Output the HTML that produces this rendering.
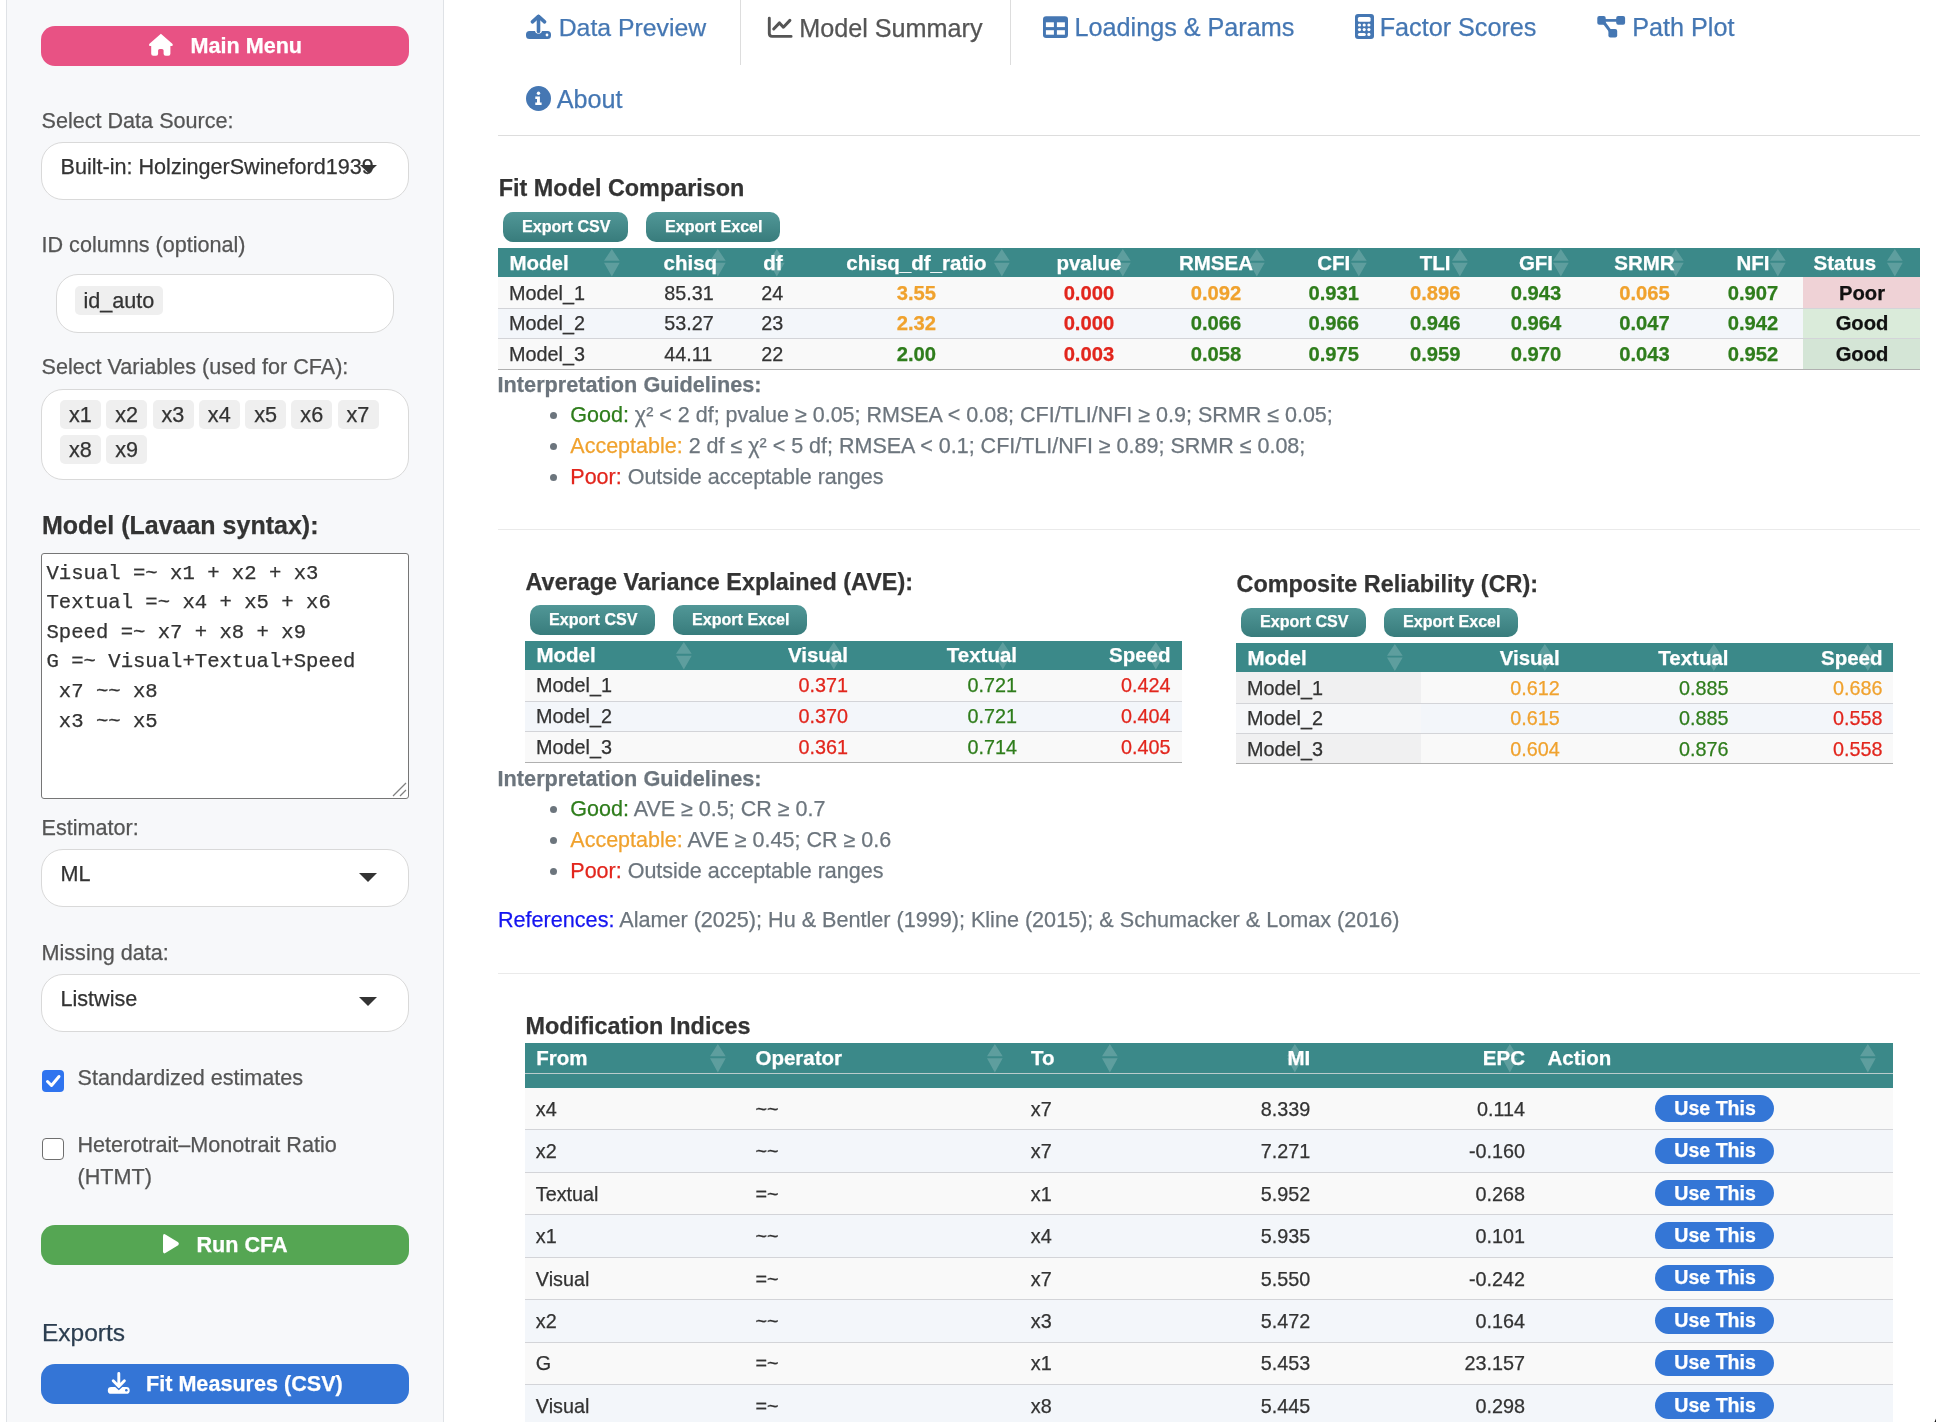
<!DOCTYPE html>
<html><head><meta charset="utf-8"><title>CFA - Model Summary</title>
<style>
html,body{margin:0;padding:0;background:#fff;}
body{width:1936px;height:1422px;overflow:hidden;position:relative;font-family:"Liberation Sans",sans-serif;}
#root{position:absolute;left:0;top:0;width:1936px;height:1422px;overflow:hidden;will-change:transform;}
.a{position:absolute;white-space:nowrap;-webkit-text-stroke:0.25px currentColor;}
svg.a{overflow:visible;}
</style></head><body><div id="root">
<div class="a" style="left:6px;top:-30px;width:436px;height:1480px;background:#f7f8fa;border:1px solid #dfe2e6;border-radius:6px;"></div>
<div class="a" style="left:41px;top:26px;width:368px;height:40px;background:#e85284;border-radius:14px;"></div>
<svg class="a" style="left:149px;top:34px;" width="24" height="22" viewBox="0 0 24 22"><path fill="#fff" d="M11.9 -0.2 L23.6 10.1 Q24.4 11.9 22.8 12 L21.4 12 L21.4 19.7 Q21.4 21.7 19.4 21.7 L16.6 21.7 Q14.6 21.7 14.6 19.7 L14.6 16.6 Q14.6 15 13 15 L10.7 15 Q9.1 15 9.1 16.6 L9.1 19.7 Q9.1 21.7 7.1 21.7 L4.2 21.7 Q2.2 21.7 2.2 19.7 L2.2 12 L1 12 Q-0.6 11.9 0.2 10.1 Z"/></svg>
<div class="a" style="top:30px;font-size:21.6px;line-height:31px;color:#fff;font-weight:700;left:190.50px;">Main Menu</div>
<div class="a" style="top:105px;font-size:21.6px;line-height:31px;color:#555;left:41.50px;">Select Data Source:</div>
<div class="a" style="left:41px;top:142px;width:366px;height:56px;background:#fff;border:1px solid #d9d9d9;border-radius:22px;"></div>
<div class="a" style="top:151px;font-size:21.6px;line-height:31px;color:#333;left:60.50px;">Built-in: HolzingerSwineford1939</div>
<svg class="a" style="left:359.5px;top:165px;" width="17" height="8" viewBox="0 0 17 8"><path fill="#333" d="M0 0 L17 0 L8.5 8 Z"/></svg>
<div class="a" style="top:229px;font-size:21.6px;line-height:31px;color:#555;left:41.50px;">ID columns (optional)</div>
<div class="a" style="left:56px;top:274px;width:336px;height:57px;background:#fff;border:1px solid #d9d9d9;border-radius:22px;"></div>
<div class="a" style="left:75px;top:286px;width:88px;height:29px;background:#efefef;border-radius:5px;"></div>
<div class="a" style="top:285px;font-size:21.6px;line-height:31px;color:#333;left:83.50px;">id_auto</div>
<div class="a" style="top:351px;font-size:21.6px;line-height:31px;color:#555;left:41.50px;">Select Variables (used for CFA):</div>
<div class="a" style="left:41px;top:389px;width:366px;height:89px;background:#fff;border:1px solid #d9d9d9;border-radius:22px;"></div>
<div class="a" style="left:60px;top:400px;width:41px;height:29px;background:#efefef;border-radius:5px;"></div>
<div class="a" style="top:399px;font-size:21.6px;line-height:31px;color:#333;left:59.85px;width:41px;text-align:center;">x1</div>
<div class="a" style="left:106px;top:400px;width:41px;height:29px;background:#efefef;border-radius:5px;"></div>
<div class="a" style="top:399px;font-size:21.6px;line-height:31px;color:#333;left:106.05px;width:41px;text-align:center;">x2</div>
<div class="a" style="left:153px;top:400px;width:41px;height:29px;background:#efefef;border-radius:5px;"></div>
<div class="a" style="top:399px;font-size:21.6px;line-height:31px;color:#333;left:152.45px;width:41px;text-align:center;">x3</div>
<div class="a" style="left:199px;top:400px;width:41px;height:29px;background:#efefef;border-radius:5px;"></div>
<div class="a" style="top:399px;font-size:21.6px;line-height:31px;color:#333;left:198.75px;width:41px;text-align:center;">x4</div>
<div class="a" style="left:245px;top:400px;width:41px;height:29px;background:#efefef;border-radius:5px;"></div>
<div class="a" style="top:399px;font-size:21.6px;line-height:31px;color:#333;left:245.05px;width:41px;text-align:center;">x5</div>
<div class="a" style="left:291px;top:400px;width:41px;height:29px;background:#efefef;border-radius:5px;"></div>
<div class="a" style="top:399px;font-size:21.6px;line-height:31px;color:#333;left:291.25px;width:41px;text-align:center;">x6</div>
<div class="a" style="left:338px;top:400px;width:41px;height:29px;background:#efefef;border-radius:5px;"></div>
<div class="a" style="top:399px;font-size:21.6px;line-height:31px;color:#333;left:337.45px;width:41px;text-align:center;">x7</div>
<div class="a" style="left:60px;top:435px;width:41px;height:29px;background:#efefef;border-radius:5px;"></div>
<div class="a" style="top:434px;font-size:21.6px;line-height:31px;color:#333;left:59.85px;width:41px;text-align:center;">x8</div>
<div class="a" style="left:106px;top:435px;width:41px;height:29px;background:#efefef;border-radius:5px;"></div>
<div class="a" style="top:434px;font-size:21.6px;line-height:31px;color:#333;left:106.05px;width:41px;text-align:center;">x9</div>
<div class="a" style="top:507px;font-size:25px;line-height:36px;color:#333;font-weight:700;left:42.00px;">Model (Lavaan syntax):</div>
<div class="a" style="left:41px;top:553px;width:366px;height:244px;background:#fff;border:1px solid #767676;border-radius:3px;"></div>
<div class="a" style="top:559px;font-size:20.6px;line-height:30px;color:#333;font-family:'Liberation Mono',monospace;left:46.50px;">Visual =~ x1 + x2 + x3</div>
<div class="a" style="top:588px;font-size:20.6px;line-height:30px;color:#333;font-family:'Liberation Mono',monospace;left:46.50px;">Textual =~ x4 + x5 + x6</div>
<div class="a" style="top:618px;font-size:20.6px;line-height:30px;color:#333;font-family:'Liberation Mono',monospace;left:46.50px;">Speed =~ x7 + x8 + x9</div>
<div class="a" style="top:647px;font-size:20.6px;line-height:30px;color:#333;font-family:'Liberation Mono',monospace;left:46.50px;">G =~ Visual+Textual+Speed</div>
<div class="a" style="top:677px;font-size:20.6px;line-height:30px;color:#333;font-family:'Liberation Mono',monospace;left:46.50px;"> x7 ~~ x8</div>
<div class="a" style="top:707px;font-size:20.6px;line-height:30px;color:#333;font-family:'Liberation Mono',monospace;left:46.50px;"> x3 ~~ x5</div>
<svg class="a" style="left:392px;top:782px;" width="15" height="15" viewBox="0 0 15 15"><path d="M14 1 L1 14 M14 8 L8 14" stroke="#808080" stroke-width="1.3" fill="none"/></svg>
<div class="a" style="top:812px;font-size:21.6px;line-height:31px;color:#555;left:41.50px;">Estimator:</div>
<div class="a" style="left:41px;top:849px;width:366px;height:56px;background:#fff;border:1px solid #d9d9d9;border-radius:22px;"></div>
<div class="a" style="top:858px;font-size:21.6px;line-height:31px;color:#333;left:60.50px;">ML</div>
<svg class="a" style="left:359px;top:873px;" width="18" height="9" viewBox="0 0 18 9"><path fill="#333" d="M0 0 L18 0 L9 9 Z"/></svg>
<div class="a" style="top:937px;font-size:21.6px;line-height:31px;color:#555;left:41.50px;">Missing data:</div>
<div class="a" style="left:41px;top:974px;width:366px;height:56px;background:#fff;border:1px solid #d9d9d9;border-radius:22px;"></div>
<div class="a" style="top:983px;font-size:21.6px;line-height:31px;color:#333;left:60.50px;">Listwise</div>
<svg class="a" style="left:359px;top:997px;" width="18" height="9" viewBox="0 0 18 9"><path fill="#333" d="M0 0 L18 0 L9 9 Z"/></svg>
<div class="a" style="left:42px;top:1070px;width:22px;height:22px;background:#2f74ef;border-radius:4px;"></div>
<svg class="a" style="left:42px;top:1070px;" width="22" height="22" viewBox="0 0 22 22"><path d="M5.5 11.5 L9.5 15.5 L17 6.5" stroke="#fff" stroke-width="3" fill="none" stroke-linecap="round" stroke-linejoin="round"/></svg>
<div class="a" style="top:1062px;font-size:21.6px;line-height:31px;color:#555;left:77.50px;">Standardized estimates</div>
<div class="a" style="left:42px;top:1138px;width:20px;height:20px;background:#fff;border:1.5px solid #6f6f6f;border-radius:4px;"></div>
<div class="a" style="top:1129px;font-size:21.6px;line-height:31px;color:#555;left:77.50px;">Heterotrait–Monotrait Ratio</div>
<div class="a" style="top:1161px;font-size:21.6px;line-height:31px;color:#555;left:77.50px;">(HTMT)</div>
<div class="a" style="left:41px;top:1225px;width:368px;height:40px;background:#55a653;border-radius:14px;"></div>
<svg class="a" style="left:162.8px;top:1233.8px;" width="17" height="20" viewBox="0 0 17 20"><path fill="#fff" d="M2.4 0.4 Q0 -0.8 0 2.2 L0 17.3 Q0 20.3 2.4 19.1 L15.2 11.3 Q16.6 9.75 15.2 8.2 Z"/></svg>
<div class="a" style="top:1229px;font-size:21.6px;line-height:31px;color:#fff;font-weight:700;left:196.50px;">Run CFA</div>
<div class="a" style="top:1315px;font-size:24.5px;line-height:36px;color:#2c3e50;left:42.00px;">Exports</div>
<div class="a" style="left:41px;top:1364px;width:368px;height:40px;background:#3475d6;border-radius:14px;"></div>
<svg class="a" style="left:107.5px;top:1372px;" width="22" height="22" viewBox="0 0 22 22"><path d="M10.8 1.4 L10.8 14 M5.2 8.8 L10.8 14.6 L16.4 8.8" stroke="#fff" stroke-width="2.9" fill="none" stroke-linecap="round" stroke-linejoin="round"/><path fill="#fff" d="M3.2 15 L7.2 15 L10.8 18.3 L14.4 15 L18.4 15 Q21.7 15 21.7 18.4 Q21.7 21.8 18.4 21.8 L3.2 21.8 Q-0.2 21.8 -0.2 18.4 Q-0.2 15 3.2 15 Z"/><circle cx="18.3" cy="18.3" r="1.25" fill="#3475d6"/></svg>
<div class="a" style="top:1368px;font-size:21.6px;line-height:31px;color:#fff;font-weight:700;left:146.00px;">Fit Measures (CSV)</div>
<svg class="a" style="left:526px;top:14px;" width="25" height="25" viewBox="0 0 25 25"><path d="M12.5 2.5 L12.5 17.5" stroke="#4577b3" stroke-width="3.6" stroke-linecap="round"/><path d="M6.4 7.8 L12.5 2.3 L18.6 7.8" stroke="#4577b3" stroke-width="3.6" fill="none" stroke-linecap="round" stroke-linejoin="round"/><path fill="#4577b3" d="M3.5 17 L9 17 A3.6 3.6 0 0 0 16 17 L21.5 17 Q25 17 25 20.5 L25 21.5 Q25 25 21.5 25 L3.5 25 Q0 25 0 21.5 L0 20.5 Q0 17 3.5 17 Z"/><circle cx="21" cy="21" r="1.4" fill="#fff"/></svg>
<div class="a" style="top:10px;font-size:24.8px;line-height:36px;color:#4577b3;left:558.70px;">Data Preview</div>
<div class="a" style="left:740px;top:-30px;width:269px;height:94px;border:1px solid #ddd;border-bottom:none;border-radius:6px 6px 0 0;background:#fff;"></div>
<svg class="a" style="left:767px;top:15.5px;" width="26" height="22" viewBox="0 0 26 22"><path d="M2.3 2.2 L2.3 17.6 Q2.3 20.4 5.1 20.4 L24.1 20.4" stroke="#555" stroke-width="2.9" fill="none" stroke-linecap="round" stroke-linejoin="round"/><path d="M6.7 13 L12.5 6.9 L16.4 11.2 L22.9 4.4" stroke="#555" stroke-width="3" fill="none" stroke-linecap="round" stroke-linejoin="round"/></svg>
<div class="a" style="top:10px;font-size:25.2px;line-height:37px;color:#555;left:799.20px;">Model Summary</div>
<svg class="a" style="left:1043px;top:15.5px;" width="25" height="22" viewBox="0 0 25 22"><rect x="0" y="0.2" width="25" height="21.7" rx="3.2" fill="#4577b3"/><rect x="2.9" y="6.3" width="8" height="4.8" fill="#fff"/><rect x="13.9" y="6.3" width="8" height="4.8" fill="#fff"/><rect x="2.9" y="14.2" width="8" height="4.5" fill="#fff"/><rect x="13.9" y="14.2" width="8" height="4.5" fill="#fff"/></svg>
<div class="a" style="top:9px;font-size:25.2px;line-height:37px;color:#4577b3;left:1074.50px;">Loadings &amp; Params</div>
<svg class="a" style="left:1355px;top:14px;" width="19" height="25" viewBox="0 0 19 25"><rect x="0" y="0.1" width="19" height="24.8" rx="3" fill="#4577b3"/><rect x="2.9" y="3" width="12.7" height="4.8" rx="1.5" fill="#fff"/><circle cx="4.5" cy="11" r="1.6" fill="#fff"/><circle cx="9.2" cy="11" r="1.6" fill="#fff"/><circle cx="13.9" cy="11" r="1.6" fill="#fff"/><circle cx="4.5" cy="15.6" r="1.6" fill="#fff"/><circle cx="9.2" cy="15.6" r="1.6" fill="#fff"/><circle cx="13.9" cy="15.6" r="1.6" fill="#fff"/><rect x="2.9" y="18.9" width="7.9" height="3" rx="1.5" fill="#fff"/><circle cx="13.9" cy="20.4" r="1.6" fill="#fff"/></svg>
<div class="a" style="top:9px;font-size:25.2px;line-height:37px;color:#4577b3;left:1379.70px;">Factor Scores</div>
<svg class="a" style="left:1597px;top:14.8px;" width="29" height="23" viewBox="0 0 29 23"><path d="M7 5.4 L21 5.4" stroke="#4577b3" stroke-width="2.7"/><path d="M6.5 7 L13.8 16.8" stroke="#4577b3" stroke-width="3"/><rect x="0.3" y="0.9" width="8.4" height="8.9" rx="2" fill="#4577b3"/><rect x="19.2" y="0.9" width="8.9" height="8.9" rx="2" fill="#4577b3"/><rect x="11.4" y="13.9" width="8.8" height="8.6" rx="2" fill="#4577b3"/></svg>
<div class="a" style="top:9px;font-size:25.2px;line-height:37px;color:#4577b3;left:1632.20px;">Path Plot</div>
<svg class="a" style="left:526px;top:86px;" width="25" height="25" viewBox="0 0 25 25"><circle cx="12.5" cy="12.5" r="12.5" fill="#4577b3"/><circle cx="12.5" cy="7.3" r="1.7" fill="#fff"/><path fill="#fff" d="M9.3 10.6 L13.9 10.6 L13.9 16.6 L15.6 16.6 L15.6 19 L9.3 19 L9.3 16.6 L11 16.6 L11 13 L9.3 13 Z"/></svg>
<div class="a" style="top:81px;font-size:25.2px;line-height:37px;color:#4577b3;left:556.70px;">About</div>
<div class="a" style="left:498px;top:135px;width:1422px;height:1px;background:#ddd;"></div>
<div class="a" style="top:171px;font-size:23.4px;line-height:34px;color:#333;font-weight:700;left:498.80px;">Fit Model Comparison</div>
<div class="a" style="left:503px;top:212px;width:125px;height:29.5px;background:linear-gradient(#519797,#387c7c);border-radius:10px;"></div>
<div class="a" style="top:215px;font-size:16.1px;line-height:23px;color:#fff;font-weight:700;left:522.00px;">Export CSV</div>
<div class="a" style="left:646px;top:212px;width:134px;height:29.5px;background:linear-gradient(#519797,#387c7c);border-radius:10px;"></div>
<div class="a" style="top:215px;font-size:16.1px;line-height:23px;color:#fff;font-weight:700;left:665.00px;">Export Excel</div>
<div class="a" style="left:498px;top:248px;width:1422px;height:29px;background:#3b8989;"></div>
<svg class="a" style="left:603.7px;top:248.7px;" width="15.7" height="27.5" viewBox="0 0 15.7 27.5"><path fill="rgba(255,255,255,0.18)" d="M7.85 0 L15.7 11.825 L0 11.825 Z M0 13.75 L15.7 13.75 L7.85 27.5 Z"/></svg>
<div class="a" style="top:248px;font-size:20.5px;line-height:30px;color:#fff;font-weight:700;left:509.50px;">Model</div>
<svg class="a" style="left:709.5px;top:248.7px;" width="15.7" height="27.5" viewBox="0 0 15.7 27.5"><path fill="rgba(255,255,255,0.18)" d="M7.85 0 L15.7 11.825 L0 11.825 Z M0 13.75 L15.7 13.75 L7.85 27.5 Z"/></svg>
<div class="a" style="top:248px;font-size:20.5px;line-height:30px;color:#fff;font-weight:700;left:663.60px;">chisq</div>
<svg class="a" style="left:769px;top:248.7px;" width="15.7" height="27.5" viewBox="0 0 15.7 27.5"><path fill="rgba(255,255,255,0.18)" d="M7.85 0 L15.7 11.825 L0 11.825 Z M0 13.75 L15.7 13.75 L7.85 27.5 Z"/></svg>
<div class="a" style="top:248px;font-size:20.5px;line-height:30px;color:#fff;font-weight:700;left:763.30px;">df</div>
<svg class="a" style="left:993.9px;top:248.7px;" width="15.7" height="27.5" viewBox="0 0 15.7 27.5"><path fill="rgba(255,255,255,0.18)" d="M7.85 0 L15.7 11.825 L0 11.825 Z M0 13.75 L15.7 13.75 L7.85 27.5 Z"/></svg>
<div class="a" style="top:248px;font-size:20.5px;line-height:30px;color:#fff;font-weight:700;left:816.40px;width:200px;text-align:center;">chisq_df_ratio</div>
<svg class="a" style="left:1115.3px;top:248.7px;" width="15.7" height="27.5" viewBox="0 0 15.7 27.5"><path fill="rgba(255,255,255,0.18)" d="M7.85 0 L15.7 11.825 L0 11.825 Z M0 13.75 L15.7 13.75 L7.85 27.5 Z"/></svg>
<div class="a" style="top:248px;font-size:20.5px;line-height:30px;color:#fff;font-weight:700;left:988.90px;width:200px;text-align:center;">pvalue</div>
<svg class="a" style="left:1249px;top:248.7px;" width="15.7" height="27.5" viewBox="0 0 15.7 27.5"><path fill="rgba(255,255,255,0.18)" d="M7.85 0 L15.7 11.825 L0 11.825 Z M0 13.75 L15.7 13.75 L7.85 27.5 Z"/></svg>
<div class="a" style="top:248px;font-size:20.5px;line-height:30px;color:#fff;font-weight:700;left:1116.00px;width:200px;text-align:center;">RMSEA</div>
<svg class="a" style="left:1351px;top:248.7px;" width="15.7" height="27.5" viewBox="0 0 15.7 27.5"><path fill="rgba(255,255,255,0.18)" d="M7.85 0 L15.7 11.825 L0 11.825 Z M0 13.75 L15.7 13.75 L7.85 27.5 Z"/></svg>
<div class="a" style="top:248px;font-size:20.5px;line-height:30px;color:#fff;font-weight:700;left:1233.80px;width:200px;text-align:center;">CFI</div>
<svg class="a" style="left:1452px;top:248.7px;" width="15.7" height="27.5" viewBox="0 0 15.7 27.5"><path fill="rgba(255,255,255,0.18)" d="M7.85 0 L15.7 11.825 L0 11.825 Z M0 13.75 L15.7 13.75 L7.85 27.5 Z"/></svg>
<div class="a" style="top:248px;font-size:20.5px;line-height:30px;color:#fff;font-weight:700;left:1335.20px;width:200px;text-align:center;">TLI</div>
<svg class="a" style="left:1553px;top:248.7px;" width="15.7" height="27.5" viewBox="0 0 15.7 27.5"><path fill="rgba(255,255,255,0.18)" d="M7.85 0 L15.7 11.825 L0 11.825 Z M0 13.75 L15.7 13.75 L7.85 27.5 Z"/></svg>
<div class="a" style="top:248px;font-size:20.5px;line-height:30px;color:#fff;font-weight:700;left:1436.00px;width:200px;text-align:center;">GFI</div>
<svg class="a" style="left:1668px;top:248.7px;" width="15.7" height="27.5" viewBox="0 0 15.7 27.5"><path fill="rgba(255,255,255,0.18)" d="M7.85 0 L15.7 11.825 L0 11.825 Z M0 13.75 L15.7 13.75 L7.85 27.5 Z"/></svg>
<div class="a" style="top:248px;font-size:20.5px;line-height:30px;color:#fff;font-weight:700;left:1544.50px;width:200px;text-align:center;">SRMR</div>
<svg class="a" style="left:1770px;top:248.7px;" width="15.7" height="27.5" viewBox="0 0 15.7 27.5"><path fill="rgba(255,255,255,0.18)" d="M7.85 0 L15.7 11.825 L0 11.825 Z M0 13.75 L15.7 13.75 L7.85 27.5 Z"/></svg>
<div class="a" style="top:248px;font-size:20.5px;line-height:30px;color:#fff;font-weight:700;left:1653.00px;width:200px;text-align:center;">NFI</div>
<svg class="a" style="left:1887px;top:248.7px;" width="15.7" height="27.5" viewBox="0 0 15.7 27.5"><path fill="rgba(255,255,255,0.18)" d="M7.85 0 L15.7 11.825 L0 11.825 Z M0 13.75 L15.7 13.75 L7.85 27.5 Z"/></svg>
<div class="a" style="top:248px;font-size:20.5px;line-height:30px;color:#fff;font-weight:700;left:1813.50px;">Status</div>
<div class="a" style="left:498px;top:277px;width:1422px;height:31px;background:#f9f9f9;"></div>
<div class="a" style="left:1803px;top:277px;width:117px;height:31px;background:#efd2d6;"></div>
<div class="a" style="left:498px;top:308px;width:1422px;height:30px;background:#f3f6fa;"></div>
<div class="a" style="left:1803px;top:308px;width:117px;height:30px;background:#daebda;"></div>
<div class="a" style="left:498px;top:338px;width:1422px;height:31px;background:#f9f9f9;"></div>
<div class="a" style="left:1803px;top:338px;width:117px;height:31px;background:#d4e5d6;"></div>
<div class="a" style="left:498px;top:308px;width:1422px;height:1px;background:#d3d4d8;"></div>
<div class="a" style="left:498px;top:338px;width:1422px;height:1px;background:#d3d4d8;"></div>
<div class="a" style="left:498px;top:369px;width:1422px;height:1px;background:#b0b0b0;"></div>
<div class="a" style="top:279px;font-size:19.8px;line-height:29px;color:#333;left:509.00px;">Model_1</div>
<div class="a" style="top:279px;font-size:19.8px;line-height:29px;color:#333;left:664.30px;">85.31</div>
<div class="a" style="top:279px;font-size:19.8px;line-height:29px;color:#333;left:761.30px;">24</div>
<div class="a" style="top:279px;font-size:20.2px;line-height:29px;color:#f0a22e;font-weight:700;left:866.40px;width:100px;text-align:center;">3.55</div>
<div class="a" style="top:279px;font-size:20.2px;line-height:29px;color:#e2261d;font-weight:700;left:1038.90px;width:100px;text-align:center;">0.000</div>
<div class="a" style="top:279px;font-size:20.2px;line-height:29px;color:#f0a22e;font-weight:700;left:1166.00px;width:100px;text-align:center;">0.092</div>
<div class="a" style="top:279px;font-size:20.2px;line-height:29px;color:#2f7d1c;font-weight:700;left:1283.80px;width:100px;text-align:center;">0.931</div>
<div class="a" style="top:279px;font-size:20.2px;line-height:29px;color:#f0a22e;font-weight:700;left:1385.20px;width:100px;text-align:center;">0.896</div>
<div class="a" style="top:279px;font-size:20.2px;line-height:29px;color:#2f7d1c;font-weight:700;left:1486.00px;width:100px;text-align:center;">0.943</div>
<div class="a" style="top:279px;font-size:20.2px;line-height:29px;color:#f0a22e;font-weight:700;left:1594.50px;width:100px;text-align:center;">0.065</div>
<div class="a" style="top:279px;font-size:20.2px;line-height:29px;color:#2f7d1c;font-weight:700;left:1703.00px;width:100px;text-align:center;">0.907</div>
<div class="a" style="top:279px;font-size:20.2px;line-height:29px;color:#111;font-weight:700;left:1812.00px;width:100px;text-align:center;">Poor</div>
<div class="a" style="top:309px;font-size:19.8px;line-height:29px;color:#333;left:509.00px;">Model_2</div>
<div class="a" style="top:309px;font-size:19.8px;line-height:29px;color:#333;left:664.30px;">53.27</div>
<div class="a" style="top:309px;font-size:19.8px;line-height:29px;color:#333;left:761.30px;">23</div>
<div class="a" style="top:309px;font-size:20.2px;line-height:29px;color:#f0a22e;font-weight:700;left:866.40px;width:100px;text-align:center;">2.32</div>
<div class="a" style="top:309px;font-size:20.2px;line-height:29px;color:#e2261d;font-weight:700;left:1038.90px;width:100px;text-align:center;">0.000</div>
<div class="a" style="top:309px;font-size:20.2px;line-height:29px;color:#2f7d1c;font-weight:700;left:1166.00px;width:100px;text-align:center;">0.066</div>
<div class="a" style="top:309px;font-size:20.2px;line-height:29px;color:#2f7d1c;font-weight:700;left:1283.80px;width:100px;text-align:center;">0.966</div>
<div class="a" style="top:309px;font-size:20.2px;line-height:29px;color:#2f7d1c;font-weight:700;left:1385.20px;width:100px;text-align:center;">0.946</div>
<div class="a" style="top:309px;font-size:20.2px;line-height:29px;color:#2f7d1c;font-weight:700;left:1486.00px;width:100px;text-align:center;">0.964</div>
<div class="a" style="top:309px;font-size:20.2px;line-height:29px;color:#2f7d1c;font-weight:700;left:1594.50px;width:100px;text-align:center;">0.047</div>
<div class="a" style="top:309px;font-size:20.2px;line-height:29px;color:#2f7d1c;font-weight:700;left:1703.00px;width:100px;text-align:center;">0.942</div>
<div class="a" style="top:309px;font-size:20.2px;line-height:29px;color:#111;font-weight:700;left:1812.00px;width:100px;text-align:center;">Good</div>
<div class="a" style="top:340px;font-size:19.8px;line-height:29px;color:#333;left:509.00px;">Model_3</div>
<div class="a" style="top:340px;font-size:19.8px;line-height:29px;color:#333;left:664.30px;">44.11</div>
<div class="a" style="top:340px;font-size:19.8px;line-height:29px;color:#333;left:761.30px;">22</div>
<div class="a" style="top:340px;font-size:20.2px;line-height:29px;color:#2f7d1c;font-weight:700;left:866.40px;width:100px;text-align:center;">2.00</div>
<div class="a" style="top:340px;font-size:20.2px;line-height:29px;color:#e2261d;font-weight:700;left:1038.90px;width:100px;text-align:center;">0.003</div>
<div class="a" style="top:340px;font-size:20.2px;line-height:29px;color:#2f7d1c;font-weight:700;left:1166.00px;width:100px;text-align:center;">0.058</div>
<div class="a" style="top:340px;font-size:20.2px;line-height:29px;color:#2f7d1c;font-weight:700;left:1283.80px;width:100px;text-align:center;">0.975</div>
<div class="a" style="top:340px;font-size:20.2px;line-height:29px;color:#2f7d1c;font-weight:700;left:1385.20px;width:100px;text-align:center;">0.959</div>
<div class="a" style="top:340px;font-size:20.2px;line-height:29px;color:#2f7d1c;font-weight:700;left:1486.00px;width:100px;text-align:center;">0.970</div>
<div class="a" style="top:340px;font-size:20.2px;line-height:29px;color:#2f7d1c;font-weight:700;left:1594.50px;width:100px;text-align:center;">0.043</div>
<div class="a" style="top:340px;font-size:20.2px;line-height:29px;color:#2f7d1c;font-weight:700;left:1703.00px;width:100px;text-align:center;">0.952</div>
<div class="a" style="top:340px;font-size:20.2px;line-height:29px;color:#111;font-weight:700;left:1812.00px;width:100px;text-align:center;">Good</div>
<div class="a" style="top:369px;font-size:21.7px;line-height:31px;color:#6c757d;font-weight:700;left:497.60px;">Interpretation Guidelines:</div>
<div class="a" style="left:550px;top:411.90px;width:7px;height:7px;border-radius:50%;background:#6c757d;"></div>
<div class="a" style="top:400px;font-size:21.5px;line-height:31px;color:#6c757d;left:570.30px;"><span style="color:#2f7d1c">Good:</span> χ² &lt; 2 df; pvalue ≥ 0.05; RMSEA &lt; 0.08; CFI/TLI/NFI ≥ 0.9; SRMR ≤ 0.05;</div>
<div class="a" style="left:550px;top:442.95px;width:7px;height:7px;border-radius:50%;background:#6c757d;"></div>
<div class="a" style="top:431px;font-size:21.5px;line-height:31px;color:#6c757d;left:570.30px;"><span style="color:#f0a22e">Acceptable:</span> 2 df ≤ χ² &lt; 5 df; RMSEA &lt; 0.1; CFI/TLI/NFI ≥ 0.89; SRMR ≤ 0.08;</div>
<div class="a" style="left:550px;top:474.00px;width:7px;height:7px;border-radius:50%;background:#6c757d;"></div>
<div class="a" style="top:462px;font-size:21.5px;line-height:31px;color:#6c757d;left:570.30px;"><span style="color:#e2261d">Poor:</span> Outside acceptable ranges</div>
<div class="a" style="left:498px;top:529px;width:1422px;height:1px;background:#eaeaea;"></div>
<div class="a" style="top:565px;font-size:23.4px;line-height:34px;color:#333;font-weight:700;left:525.60px;">Average Variance Explained (AVE):</div>
<div class="a" style="left:530px;top:605.3px;width:125px;height:29.5px;background:linear-gradient(#519797,#387c7c);border-radius:10px;"></div>
<div class="a" style="top:608px;font-size:16.1px;line-height:23px;color:#fff;font-weight:700;left:549.00px;">Export CSV</div>
<div class="a" style="left:673px;top:605.3px;width:134px;height:29.5px;background:linear-gradient(#519797,#387c7c);border-radius:10px;"></div>
<div class="a" style="top:608px;font-size:16.1px;line-height:23px;color:#fff;font-weight:700;left:692.00px;">Export Excel</div>
<div class="a" style="left:525px;top:641px;width:657px;height:29px;background:#3b8989;"></div>
<svg class="a" style="left:675.8px;top:641.7px;" width="15.7" height="27.5" viewBox="0 0 15.7 27.5"><path fill="rgba(255,255,255,0.18)" d="M7.85 0 L15.7 11.825 L0 11.825 Z M0 13.75 L15.7 13.75 L7.85 27.5 Z"/></svg>
<div class="a" style="top:640px;font-size:20.5px;line-height:30px;color:#fff;font-weight:700;left:536.50px;">Model</div>
<svg class="a" style="left:826px;top:641.7px;" width="15.7" height="27.5" viewBox="0 0 15.7 27.5"><path fill="rgba(255,255,255,0.18)" d="M7.85 0 L15.7 11.825 L0 11.825 Z M0 13.75 L15.7 13.75 L7.85 27.5 Z"/></svg>
<div class="a" style="top:640px;font-size:20.5px;line-height:30px;color:#fff;font-weight:700;left:648.00px;width:200px;text-align:right;">Visual</div>
<svg class="a" style="left:994.5px;top:641.7px;" width="15.7" height="27.5" viewBox="0 0 15.7 27.5"><path fill="rgba(255,255,255,0.18)" d="M7.85 0 L15.7 11.825 L0 11.825 Z M0 13.75 L15.7 13.75 L7.85 27.5 Z"/></svg>
<div class="a" style="top:640px;font-size:20.5px;line-height:30px;color:#fff;font-weight:700;left:817.00px;width:200px;text-align:right;">Textual</div>
<svg class="a" style="left:1148px;top:641.7px;" width="15.7" height="27.5" viewBox="0 0 15.7 27.5"><path fill="rgba(255,255,255,0.18)" d="M7.85 0 L15.7 11.825 L0 11.825 Z M0 13.75 L15.7 13.75 L7.85 27.5 Z"/></svg>
<div class="a" style="top:640px;font-size:20.5px;line-height:30px;color:#fff;font-weight:700;left:970.50px;width:200px;text-align:right;">Speed</div>
<div class="a" style="left:525px;top:670px;width:657px;height:31px;background:#f9f9f9;"></div>
<div class="a" style="left:525px;top:701px;width:657px;height:30px;background:#f3f6fa;"></div>
<div class="a" style="left:525px;top:731px;width:657px;height:31px;background:#f9f9f9;"></div>
<div class="a" style="left:525px;top:701px;width:657px;height:1px;background:#d3d4d8;"></div>
<div class="a" style="left:525px;top:731px;width:657px;height:1px;background:#d3d4d8;"></div>
<div class="a" style="left:525px;top:762px;width:657px;height:1px;background:#b0b0b0;"></div>
<div class="a" style="top:671px;font-size:19.8px;line-height:29px;color:#333;left:536.00px;">Model_1</div>
<div class="a" style="top:671px;font-size:19.8px;line-height:29px;color:#e2261d;left:748.00px;width:100px;text-align:right;">0.371</div>
<div class="a" style="top:671px;font-size:19.8px;line-height:29px;color:#2f7d1c;left:917.00px;width:100px;text-align:right;">0.721</div>
<div class="a" style="top:671px;font-size:19.8px;line-height:29px;color:#e2261d;left:1070.50px;width:100px;text-align:right;">0.424</div>
<div class="a" style="top:702px;font-size:19.8px;line-height:29px;color:#333;left:536.00px;">Model_2</div>
<div class="a" style="top:702px;font-size:19.8px;line-height:29px;color:#e2261d;left:748.00px;width:100px;text-align:right;">0.370</div>
<div class="a" style="top:702px;font-size:19.8px;line-height:29px;color:#2f7d1c;left:917.00px;width:100px;text-align:right;">0.721</div>
<div class="a" style="top:702px;font-size:19.8px;line-height:29px;color:#e2261d;left:1070.50px;width:100px;text-align:right;">0.404</div>
<div class="a" style="top:733px;font-size:19.8px;line-height:29px;color:#333;left:536.00px;">Model_3</div>
<div class="a" style="top:733px;font-size:19.8px;line-height:29px;color:#e2261d;left:748.00px;width:100px;text-align:right;">0.361</div>
<div class="a" style="top:733px;font-size:19.8px;line-height:29px;color:#2f7d1c;left:917.00px;width:100px;text-align:right;">0.714</div>
<div class="a" style="top:733px;font-size:19.8px;line-height:29px;color:#e2261d;left:1070.50px;width:100px;text-align:right;">0.405</div>
<div class="a" style="top:567px;font-size:23.4px;line-height:34px;color:#333;font-weight:700;left:1236.50px;">Composite Reliability (CR):</div>
<div class="a" style="left:1241px;top:607.7px;width:125px;height:29.5px;background:linear-gradient(#519797,#387c7c);border-radius:10px;"></div>
<div class="a" style="top:610px;font-size:16.1px;line-height:23px;color:#fff;font-weight:700;left:1260.00px;">Export CSV</div>
<div class="a" style="left:1384px;top:607.7px;width:134px;height:29.5px;background:linear-gradient(#519797,#387c7c);border-radius:10px;"></div>
<div class="a" style="top:610px;font-size:16.1px;line-height:23px;color:#fff;font-weight:700;left:1403.00px;">Export Excel</div>
<div class="a" style="left:1236px;top:643.4px;width:657px;height:28.6px;background:#3b8989;"></div>
<svg class="a" style="left:1387px;top:644.1px;" width="15.7" height="27.1" viewBox="0 0 15.7 27.1"><path fill="rgba(255,255,255,0.18)" d="M7.85 0 L15.7 11.653 L0 11.653 Z M0 13.55 L15.7 13.55 L7.85 27.1 Z"/></svg>
<div class="a" style="top:643px;font-size:20.5px;line-height:30px;color:#fff;font-weight:700;left:1247.50px;">Model</div>
<svg class="a" style="left:1537px;top:644.1px;" width="15.7" height="27.1" viewBox="0 0 15.7 27.1"><path fill="rgba(255,255,255,0.18)" d="M7.85 0 L15.7 11.653 L0 11.653 Z M0 13.55 L15.7 13.55 L7.85 27.1 Z"/></svg>
<div class="a" style="top:643px;font-size:20.5px;line-height:30px;color:#fff;font-weight:700;left:1359.70px;width:200px;text-align:right;">Visual</div>
<svg class="a" style="left:1706px;top:644.1px;" width="15.7" height="27.1" viewBox="0 0 15.7 27.1"><path fill="rgba(255,255,255,0.18)" d="M7.85 0 L15.7 11.653 L0 11.653 Z M0 13.55 L15.7 13.55 L7.85 27.1 Z"/></svg>
<div class="a" style="top:643px;font-size:20.5px;line-height:30px;color:#fff;font-weight:700;left:1528.50px;width:200px;text-align:right;">Textual</div>
<svg class="a" style="left:1860px;top:644.1px;" width="15.7" height="27.1" viewBox="0 0 15.7 27.1"><path fill="rgba(255,255,255,0.18)" d="M7.85 0 L15.7 11.653 L0 11.653 Z M0 13.55 L15.7 13.55 L7.85 27.1 Z"/></svg>
<div class="a" style="top:643px;font-size:20.5px;line-height:30px;color:#fff;font-weight:700;left:1682.50px;width:200px;text-align:right;">Speed</div>
<div class="a" style="left:1236px;top:672px;width:657px;height:31px;background:#f9f9f9;"></div>
<div class="a" style="left:1236px;top:672px;width:184.5px;height:31px;background:#f0f0f1;"></div>
<div class="a" style="left:1236px;top:703px;width:657px;height:30px;background:#f3f6fa;"></div>
<div class="a" style="left:1236px;top:703px;width:184.5px;height:30px;background:#f6f7f9;"></div>
<div class="a" style="left:1236px;top:733px;width:657px;height:30px;background:#f9f9f9;"></div>
<div class="a" style="left:1236px;top:733px;width:184.5px;height:30px;background:#f0f0f1;"></div>
<div class="a" style="left:1236px;top:703px;width:657px;height:1px;background:#d3d4d8;"></div>
<div class="a" style="left:1236px;top:733px;width:657px;height:1px;background:#d3d4d8;"></div>
<div class="a" style="left:1236px;top:763px;width:657px;height:1px;background:#b0b0b0;"></div>
<div class="a" style="top:674px;font-size:19.8px;line-height:29px;color:#333;left:1247.00px;">Model_1</div>
<div class="a" style="top:674px;font-size:19.8px;line-height:29px;color:#f0a22e;left:1459.70px;width:100px;text-align:right;">0.612</div>
<div class="a" style="top:674px;font-size:19.8px;line-height:29px;color:#2f7d1c;left:1628.50px;width:100px;text-align:right;">0.885</div>
<div class="a" style="top:674px;font-size:19.8px;line-height:29px;color:#f0a22e;left:1782.50px;width:100px;text-align:right;">0.686</div>
<div class="a" style="top:704px;font-size:19.8px;line-height:29px;color:#333;left:1247.00px;">Model_2</div>
<div class="a" style="top:704px;font-size:19.8px;line-height:29px;color:#f0a22e;left:1459.70px;width:100px;text-align:right;">0.615</div>
<div class="a" style="top:704px;font-size:19.8px;line-height:29px;color:#2f7d1c;left:1628.50px;width:100px;text-align:right;">0.885</div>
<div class="a" style="top:704px;font-size:19.8px;line-height:29px;color:#e2261d;left:1782.50px;width:100px;text-align:right;">0.558</div>
<div class="a" style="top:735px;font-size:19.8px;line-height:29px;color:#333;left:1247.00px;">Model_3</div>
<div class="a" style="top:735px;font-size:19.8px;line-height:29px;color:#f0a22e;left:1459.70px;width:100px;text-align:right;">0.604</div>
<div class="a" style="top:735px;font-size:19.8px;line-height:29px;color:#2f7d1c;left:1628.50px;width:100px;text-align:right;">0.876</div>
<div class="a" style="top:735px;font-size:19.8px;line-height:29px;color:#e2261d;left:1782.50px;width:100px;text-align:right;">0.558</div>
<div class="a" style="top:763px;font-size:21.7px;line-height:31px;color:#6c757d;font-weight:700;left:497.60px;">Interpretation Guidelines:</div>
<div class="a" style="left:550px;top:806.30px;width:7px;height:7px;border-radius:50%;background:#6c757d;"></div>
<div class="a" style="top:794px;font-size:21.5px;line-height:31px;color:#6c757d;left:570.30px;"><span style="color:#2f7d1c">Good:</span> AVE ≥ 0.5; CR ≥ 0.7</div>
<div class="a" style="left:550px;top:837.35px;width:7px;height:7px;border-radius:50%;background:#6c757d;"></div>
<div class="a" style="top:825px;font-size:21.5px;line-height:31px;color:#6c757d;left:570.30px;"><span style="color:#f0a22e">Acceptable:</span> AVE ≥ 0.45; CR ≥ 0.6</div>
<div class="a" style="left:550px;top:868.40px;width:7px;height:7px;border-radius:50%;background:#6c757d;"></div>
<div class="a" style="top:856px;font-size:21.5px;line-height:31px;color:#6c757d;left:570.30px;"><span style="color:#e2261d">Poor:</span> Outside acceptable ranges</div>
<div class="a" style="top:904px;font-size:21.6px;line-height:31px;color:#6c757d;left:498.00px;"><span style="color:#1515f0">References:</span> Alamer (2025); Hu &amp; Bentler (1999); Kline (2015); &amp; Schumacker &amp; Lomax (2016)</div>
<div class="a" style="left:498px;top:973px;width:1422px;height:1px;background:#eaeaea;"></div>
<div class="a" style="top:1009px;font-size:23.4px;line-height:34px;color:#333;font-weight:700;left:525.60px;">Modification Indices</div>
<div class="a" style="left:525px;top:1043px;width:1368px;height:30px;background:#3b8989;"></div>
<svg class="a" style="left:710.4px;top:1043.7px;" width="15.7" height="28.5" viewBox="0 0 15.7 28.5"><path fill="rgba(255,255,255,0.18)" d="M7.85 0 L15.7 12.254999999999999 L0 12.254999999999999 Z M0 14.25 L15.7 14.25 L7.85 28.5 Z"/></svg>
<div class="a" style="top:1043px;font-size:20.5px;line-height:30px;color:#fff;font-weight:700;left:536.20px;">From</div>
<svg class="a" style="left:986.5px;top:1043.7px;" width="15.7" height="28.5" viewBox="0 0 15.7 28.5"><path fill="rgba(255,255,255,0.18)" d="M7.85 0 L15.7 12.254999999999999 L0 12.254999999999999 Z M0 14.25 L15.7 14.25 L7.85 28.5 Z"/></svg>
<div class="a" style="top:1043px;font-size:20.5px;line-height:30px;color:#fff;font-weight:700;left:755.50px;">Operator</div>
<svg class="a" style="left:1101.7px;top:1043.7px;" width="15.7" height="28.5" viewBox="0 0 15.7 28.5"><path fill="rgba(255,255,255,0.18)" d="M7.85 0 L15.7 12.254999999999999 L0 12.254999999999999 Z M0 14.25 L15.7 14.25 L7.85 28.5 Z"/></svg>
<div class="a" style="top:1043px;font-size:20.5px;line-height:30px;color:#fff;font-weight:700;left:1031.00px;">To</div>
<svg class="a" style="left:1287px;top:1043.7px;" width="15.7" height="28.5" viewBox="0 0 15.7 28.5"><path fill="rgba(255,255,255,0.18)" d="M7.85 0 L15.7 12.254999999999999 L0 12.254999999999999 Z M0 14.25 L15.7 14.25 L7.85 28.5 Z"/></svg>
<div class="a" style="top:1043px;font-size:20.5px;line-height:30px;color:#fff;font-weight:700;left:1110.30px;width:200px;text-align:right;">MI</div>
<svg class="a" style="left:1502px;top:1043.7px;" width="15.7" height="28.5" viewBox="0 0 15.7 28.5"><path fill="rgba(255,255,255,0.18)" d="M7.85 0 L15.7 12.254999999999999 L0 12.254999999999999 Z M0 14.25 L15.7 14.25 L7.85 28.5 Z"/></svg>
<div class="a" style="top:1043px;font-size:20.5px;line-height:30px;color:#fff;font-weight:700;left:1325.00px;width:200px;text-align:right;">EPC</div>
<svg class="a" style="left:1859.7px;top:1043.7px;" width="15.7" height="28.5" viewBox="0 0 15.7 28.5"><path fill="rgba(255,255,255,0.18)" d="M7.85 0 L15.7 12.254999999999999 L0 12.254999999999999 Z M0 14.25 L15.7 14.25 L7.85 28.5 Z"/></svg>
<div class="a" style="top:1043px;font-size:20.5px;line-height:30px;color:#fff;font-weight:700;left:1547.50px;">Action</div>
<div class="a" style="left:525px;top:1073px;width:1368px;height:15px;background:#3b8989;border-top:1px solid #b9cccc;"></div>
<div class="a" style="left:525px;top:1088px;width:1368px;height:42px;background:#f9f9f9;"></div>
<div class="a" style="left:525px;top:1130px;width:1368px;height:43px;background:#f3f6fa;"></div>
<div class="a" style="left:525px;top:1173px;width:1368px;height:42px;background:#f9f9f9;"></div>
<div class="a" style="left:525px;top:1215px;width:1368px;height:43px;background:#f3f6fa;"></div>
<div class="a" style="left:525px;top:1258px;width:1368px;height:42px;background:#f9f9f9;"></div>
<div class="a" style="left:525px;top:1300px;width:1368px;height:43px;background:#f3f6fa;"></div>
<div class="a" style="left:525px;top:1343px;width:1368px;height:42px;background:#f9f9f9;"></div>
<div class="a" style="left:525px;top:1385px;width:1368px;height:43px;background:#f3f6fa;"></div>
<div class="a" style="left:525px;top:1129px;width:1368px;height:1px;background:#d3d4d8;"></div>
<div class="a" style="left:525px;top:1172px;width:1368px;height:1px;background:#d3d4d8;"></div>
<div class="a" style="left:525px;top:1214px;width:1368px;height:1px;background:#d3d4d8;"></div>
<div class="a" style="left:525px;top:1257px;width:1368px;height:1px;background:#d3d4d8;"></div>
<div class="a" style="left:525px;top:1299px;width:1368px;height:1px;background:#d3d4d8;"></div>
<div class="a" style="left:525px;top:1342px;width:1368px;height:1px;background:#d3d4d8;"></div>
<div class="a" style="left:525px;top:1384px;width:1368px;height:1px;background:#d3d4d8;"></div>
<div class="a" style="left:525px;top:1427px;width:1368px;height:1px;background:#d3d4d8;"></div>
<div class="a" style="top:1095px;font-size:19.8px;line-height:29px;color:#333;left:535.80px;">x4</div>
<div class="a" style="top:1095px;font-size:19.8px;line-height:29px;color:#333;left:755.50px;">~~</div>
<div class="a" style="top:1095px;font-size:19.8px;line-height:29px;color:#333;left:1030.80px;">x7</div>
<div class="a" style="top:1095px;font-size:19.8px;line-height:29px;color:#333;left:1210.30px;width:100px;text-align:right;">8.339</div>
<div class="a" style="top:1095px;font-size:19.8px;line-height:29px;color:#333;left:1425.00px;width:100px;text-align:right;">0.114</div>
<div class="a" style="left:1655px;top:1095.0px;width:118.5px;height:26.6px;background:#3476d6;border-radius:14px;"></div>
<div class="a" style="top:1094px;font-size:19.6px;line-height:28px;color:#fff;font-weight:700;left:1656.10px;width:118px;text-align:center;">Use This</div>
<div class="a" style="top:1137px;font-size:19.8px;line-height:29px;color:#333;left:535.80px;">x2</div>
<div class="a" style="top:1137px;font-size:19.8px;line-height:29px;color:#333;left:755.50px;">~~</div>
<div class="a" style="top:1137px;font-size:19.8px;line-height:29px;color:#333;left:1030.80px;">x7</div>
<div class="a" style="top:1137px;font-size:19.8px;line-height:29px;color:#333;left:1210.30px;width:100px;text-align:right;">7.271</div>
<div class="a" style="top:1137px;font-size:19.8px;line-height:29px;color:#333;left:1425.00px;width:100px;text-align:right;">-0.160</div>
<div class="a" style="left:1655px;top:1137.5px;width:118.5px;height:26.6px;background:#3476d6;border-radius:14px;"></div>
<div class="a" style="top:1136px;font-size:19.6px;line-height:28px;color:#fff;font-weight:700;left:1656.10px;width:118px;text-align:center;">Use This</div>
<div class="a" style="top:1180px;font-size:19.8px;line-height:29px;color:#333;left:535.80px;">Textual</div>
<div class="a" style="top:1180px;font-size:19.8px;line-height:29px;color:#333;left:755.50px;">=~</div>
<div class="a" style="top:1180px;font-size:19.8px;line-height:29px;color:#333;left:1030.80px;">x1</div>
<div class="a" style="top:1180px;font-size:19.8px;line-height:29px;color:#333;left:1210.30px;width:100px;text-align:right;">5.952</div>
<div class="a" style="top:1180px;font-size:19.8px;line-height:29px;color:#333;left:1425.00px;width:100px;text-align:right;">0.268</div>
<div class="a" style="left:1655px;top:1179.9px;width:118.5px;height:26.6px;background:#3476d6;border-radius:14px;"></div>
<div class="a" style="top:1179px;font-size:19.6px;line-height:28px;color:#fff;font-weight:700;left:1656.10px;width:118px;text-align:center;">Use This</div>
<div class="a" style="top:1222px;font-size:19.8px;line-height:29px;color:#333;left:535.80px;">x1</div>
<div class="a" style="top:1222px;font-size:19.8px;line-height:29px;color:#333;left:755.50px;">~~</div>
<div class="a" style="top:1222px;font-size:19.8px;line-height:29px;color:#333;left:1030.80px;">x4</div>
<div class="a" style="top:1222px;font-size:19.8px;line-height:29px;color:#333;left:1210.30px;width:100px;text-align:right;">5.935</div>
<div class="a" style="top:1222px;font-size:19.8px;line-height:29px;color:#333;left:1425.00px;width:100px;text-align:right;">0.101</div>
<div class="a" style="left:1655px;top:1222.3px;width:118.5px;height:26.6px;background:#3476d6;border-radius:14px;"></div>
<div class="a" style="top:1221px;font-size:19.6px;line-height:28px;color:#fff;font-weight:700;left:1656.10px;width:118px;text-align:center;">Use This</div>
<div class="a" style="top:1265px;font-size:19.8px;line-height:29px;color:#333;left:535.80px;">Visual</div>
<div class="a" style="top:1265px;font-size:19.8px;line-height:29px;color:#333;left:755.50px;">=~</div>
<div class="a" style="top:1265px;font-size:19.8px;line-height:29px;color:#333;left:1030.80px;">x7</div>
<div class="a" style="top:1265px;font-size:19.8px;line-height:29px;color:#333;left:1210.30px;width:100px;text-align:right;">5.550</div>
<div class="a" style="top:1265px;font-size:19.8px;line-height:29px;color:#333;left:1425.00px;width:100px;text-align:right;">-0.242</div>
<div class="a" style="left:1655px;top:1264.8px;width:118.5px;height:26.6px;background:#3476d6;border-radius:14px;"></div>
<div class="a" style="top:1263px;font-size:19.6px;line-height:28px;color:#fff;font-weight:700;left:1656.10px;width:118px;text-align:center;">Use This</div>
<div class="a" style="top:1307px;font-size:19.8px;line-height:29px;color:#333;left:535.80px;">x2</div>
<div class="a" style="top:1307px;font-size:19.8px;line-height:29px;color:#333;left:755.50px;">~~</div>
<div class="a" style="top:1307px;font-size:19.8px;line-height:29px;color:#333;left:1030.80px;">x3</div>
<div class="a" style="top:1307px;font-size:19.8px;line-height:29px;color:#333;left:1210.30px;width:100px;text-align:right;">5.472</div>
<div class="a" style="top:1307px;font-size:19.8px;line-height:29px;color:#333;left:1425.00px;width:100px;text-align:right;">0.164</div>
<div class="a" style="left:1655px;top:1307.2px;width:118.5px;height:26.6px;background:#3476d6;border-radius:14px;"></div>
<div class="a" style="top:1306px;font-size:19.6px;line-height:28px;color:#fff;font-weight:700;left:1656.10px;width:118px;text-align:center;">Use This</div>
<div class="a" style="top:1349px;font-size:19.8px;line-height:29px;color:#333;left:535.80px;">G</div>
<div class="a" style="top:1349px;font-size:19.8px;line-height:29px;color:#333;left:755.50px;">=~</div>
<div class="a" style="top:1349px;font-size:19.8px;line-height:29px;color:#333;left:1030.80px;">x1</div>
<div class="a" style="top:1349px;font-size:19.8px;line-height:29px;color:#333;left:1210.30px;width:100px;text-align:right;">5.453</div>
<div class="a" style="top:1349px;font-size:19.8px;line-height:29px;color:#333;left:1425.00px;width:100px;text-align:right;">23.157</div>
<div class="a" style="left:1655px;top:1349.7px;width:118.5px;height:26.6px;background:#3476d6;border-radius:14px;"></div>
<div class="a" style="top:1348px;font-size:19.6px;line-height:28px;color:#fff;font-weight:700;left:1656.10px;width:118px;text-align:center;">Use This</div>
<div class="a" style="top:1392px;font-size:19.8px;line-height:29px;color:#333;left:535.80px;">Visual</div>
<div class="a" style="top:1392px;font-size:19.8px;line-height:29px;color:#333;left:755.50px;">=~</div>
<div class="a" style="top:1392px;font-size:19.8px;line-height:29px;color:#333;left:1030.80px;">x8</div>
<div class="a" style="top:1392px;font-size:19.8px;line-height:29px;color:#333;left:1210.30px;width:100px;text-align:right;">5.445</div>
<div class="a" style="top:1392px;font-size:19.8px;line-height:29px;color:#333;left:1425.00px;width:100px;text-align:right;">0.298</div>
<div class="a" style="left:1655px;top:1392.2px;width:118.5px;height:26.6px;background:#3476d6;border-radius:14px;"></div>
<div class="a" style="top:1391px;font-size:19.6px;line-height:28px;color:#fff;font-weight:700;left:1656.10px;width:118px;text-align:center;">Use This</div>
<svg class="a" style="left:1930px;top:1416px;" width="6" height="6" viewBox="0 0 6 6"><path d="M4.5 6 L6 2.5 L6 6 Z" fill="#111"/></svg>
</div></body></html>
